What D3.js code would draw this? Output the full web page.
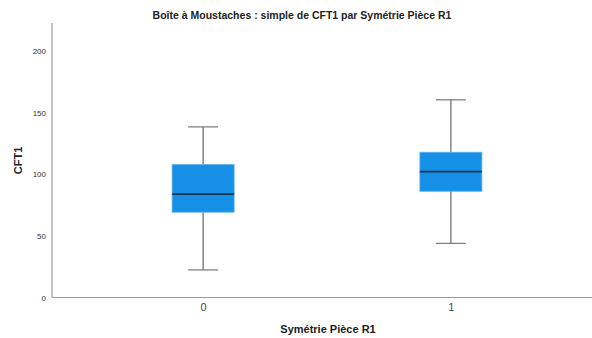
<!DOCTYPE html>
<html><head><meta charset="utf-8">
<script src="https://cdn.jsdelivr.net/npm/d3@7"></script>
<style>body{margin:0;background:#fff;overflow:hidden}svg{display:block}text{font-family:"Liberation Sans",Arial,sans-serif}</style>
</head><body>
<svg id="c" width="592" height="338"></svg>
<script>
const categories = ["0", "1"];
const whiskerLow = [22.4, 44];
const q1 = [69.3, 86.3];
const median = [84, 102.3];
const q3 = [108, 118];
const whiskerHigh = [138.6, 160.6];
const yTicks = [0, 50, 100, 150, 200];

const svg = d3.select("#c");
const y = d3.scaleLinear().domain([0, 223]).range([297.5, 23]);
const x = d3.scalePoint().domain(categories).range([52, 602]).padding(0.61);

svg.append("rect").attr("width",592).attr("height",338).attr("fill","#fff");

// axes
svg.append("line").attr("x1",52).attr("x2",52).attr("y1",y(223)).attr("y2",y(0)).attr("stroke","#999").attr("stroke-width",1.2);
svg.append("line").attr("x1",52).attr("x2",592).attr("y1",y(0)).attr("y2",y(0)).attr("stroke","#999").attr("stroke-width",1.2);

const yAxis = d3.axisLeft(y).tickValues(yTicks).tickSize(0).tickPadding(6);
const gy = svg.append("g").attr("transform","translate(52,0)").call(yAxis);
gy.select(".domain").remove();
gy.selectAll("text").attr("font-size",8).attr("fill","#333").attr("font-family","Liberation Sans, Arial, sans-serif");

const xAxis = d3.axisBottom(x).tickSize(0).tickPadding(6);
const gx = svg.append("g").attr("transform",`translate(0,${y(0)})`).call(xAxis);
gx.select(".domain").remove();
gx.selectAll("text").attr("font-size",11).attr("fill","#444").attr("font-family","Liberation Sans, Arial, sans-serif");

const data = categories.map((c,i)=>({c, lo:whiskerLow[i], q1:q1[i], med:median[i], q3:q3[i], hi:whiskerHigh[i]}));
const boxW = 62, capW = 30;
const g = svg.append("g");
data.forEach(d=>{
  const cx = x(d.c);
  g.append("line").attr("x1",cx).attr("x2",cx).attr("y1",y(d.hi)).attr("y2",y(d.q3)).attr("stroke","#666").attr("stroke-width",1.2);
  g.append("line").attr("x1",cx).attr("x2",cx).attr("y1",y(d.q1)).attr("y2",y(d.lo)).attr("stroke","#666").attr("stroke-width",1.2);
  g.append("line").attr("x1",cx-capW/2).attr("x2",cx+capW/2).attr("y1",y(d.hi)).attr("y2",y(d.hi)).attr("stroke","#777").attr("stroke-width",1.2);
  g.append("line").attr("x1",cx-capW/2).attr("x2",cx+capW/2).attr("y1",y(d.lo)).attr("y2",y(d.lo)).attr("stroke","#777").attr("stroke-width",1.2);
  g.append("rect").attr("x",cx-boxW/2).attr("width",boxW).attr("y",y(d.q3)).attr("height",y(d.q1)-y(d.q3))
    .attr("fill","#1590e6").attr("stroke","#5ab0f0").attr("stroke-width",0.8);
  g.append("line").attr("x1",cx-boxW/2).attr("x2",cx+boxW/2).attr("y1",y(d.med)).attr("y2",y(d.med)).attr("stroke","#0d3552").attr("stroke-width",1.8);
});

svg.append("text").attr("x",302).attr("y",19).attr("text-anchor","middle").attr("font-size",10.5).attr("font-weight","bold").attr("fill","#222")
  .text("Boîte à Moustaches : simple de CFT1 par Symétrie Pièce R1");
svg.append("text").attr("x",328).attr("y",333).attr("text-anchor","middle").attr("font-size",11).attr("font-weight","bold").attr("fill","#222")
  .text("Symétrie Pièce R1");
svg.append("text").attr("transform","translate(21.5,160.5) rotate(-90)").attr("text-anchor","middle").attr("font-size",11).attr("font-weight","bold").attr("fill","#222")
  .text("CFT1");
</script>
</body></html>
